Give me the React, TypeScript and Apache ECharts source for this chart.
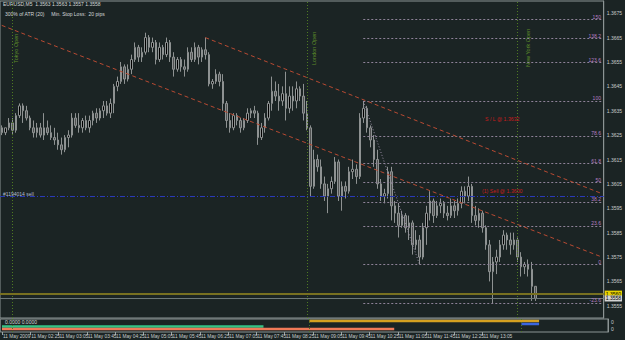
import React, { useEffect, useRef } from 'react';
import * as echarts from 'echarts';

const FONT = '"Liberation Sans Narrow", "Liberation Sans", Arial, sans-serif';

// EURUSD M5 bars: [open, high, low, close]
const ohlc: number[][] = [
  [1.3628, 1.3629, 1.3625, 1.3626], [1.3626, 1.3628, 1.3625, 1.3628], [1.3628, 1.3632, 1.3627, 1.3630],
  [1.3630, 1.3632, 1.3625, 1.3627], [1.3627, 1.3634, 1.3626, 1.3633], [1.3633, 1.3638, 1.3632, 1.3637],
  [1.3637, 1.3638, 1.3630, 1.3635], [1.3635, 1.3637, 1.3631, 1.3632], [1.3632, 1.3633, 1.3627, 1.3628],
  [1.3628, 1.3631, 1.3624, 1.3626], [1.3626, 1.3630, 1.3624, 1.3628], [1.3628, 1.3630, 1.3624, 1.3625],
  [1.3625, 1.3634, 1.3623, 1.3628], [1.3628, 1.3631, 1.3625, 1.3626], [1.3626, 1.3629, 1.3623, 1.3624],
  [1.3624, 1.3628, 1.3621, 1.3623], [1.3623, 1.3626, 1.3619, 1.3621], [1.3621, 1.3624, 1.3617, 1.3619],
  [1.3619, 1.3625, 1.3618, 1.3624], [1.3624, 1.3627, 1.3620, 1.3625], [1.3625, 1.3634, 1.3624, 1.3632],
  [1.3632, 1.3634, 1.3628, 1.3629], [1.3629, 1.3634, 1.3626, 1.3628], [1.3628, 1.3632, 1.3626, 1.3631],
  [1.3631, 1.3633, 1.3627, 1.3628], [1.3628, 1.3633, 1.3626, 1.3631], [1.3631, 1.3635, 1.3629, 1.3634],
  [1.3634, 1.3636, 1.3630, 1.3632], [1.3632, 1.3636, 1.3631, 1.3635], [1.3635, 1.3639, 1.3632, 1.3637],
  [1.3637, 1.3639, 1.3633, 1.3634], [1.3634, 1.3640, 1.3632, 1.3638], [1.3638, 1.3646, 1.3634, 1.3645],
  [1.3645, 1.3649, 1.3643, 1.3647], [1.3647, 1.3655, 1.3646, 1.3653], [1.3653, 1.3654, 1.3646, 1.3648],
  [1.3648, 1.3654, 1.3647, 1.3652], [1.3652, 1.3658, 1.3650, 1.3656], [1.3656, 1.3663, 1.3655, 1.3661],
  [1.3661, 1.3662, 1.3655, 1.3657], [1.3657, 1.3661, 1.3655, 1.3659], [1.3659, 1.3667, 1.3658, 1.3665],
  [1.3665, 1.3666, 1.3659, 1.3661], [1.3661, 1.3665, 1.3659, 1.3663], [1.3663, 1.3664, 1.3654, 1.3656],
  [1.3656, 1.3663, 1.3655, 1.3661], [1.3661, 1.3662, 1.3656, 1.3658], [1.3658, 1.3665, 1.3657, 1.3663],
  [1.3663, 1.3664, 1.3655, 1.3657], [1.3657, 1.3659, 1.3649, 1.3652], [1.3652, 1.3657, 1.3651, 1.3656],
  [1.3656, 1.3657, 1.3651, 1.3653], [1.3653, 1.3656, 1.3649, 1.3652], [1.3652, 1.3661, 1.3651, 1.3659],
  [1.3659, 1.3661, 1.3655, 1.3656], [1.3656, 1.3663, 1.3655, 1.3661], [1.3661, 1.3662, 1.3654, 1.3657],
  [1.3657, 1.3661, 1.3655, 1.3660], [1.3660, 1.3665, 1.3656, 1.3658], [1.3658, 1.3659, 1.3645, 1.3646],
  [1.3646, 1.3648, 1.3644, 1.3647], [1.3647, 1.3652, 1.3646, 1.3650], [1.3650, 1.3651, 1.3645, 1.3647],
  [1.3647, 1.3650, 1.3635, 1.3638], [1.3638, 1.3639, 1.3628, 1.3631], [1.3631, 1.3634, 1.3626, 1.3628],
  [1.3628, 1.3634, 1.3627, 1.3633], [1.3633, 1.3634, 1.3629, 1.3631], [1.3631, 1.3632, 1.3626, 1.3628],
  [1.3628, 1.3632, 1.3627, 1.3631], [1.3631, 1.3636, 1.3630, 1.3634], [1.3634, 1.3636, 1.3632, 1.3635],
  [1.3635, 1.3637, 1.3632, 1.3634], [1.3634, 1.3635, 1.3621, 1.3624], [1.3624, 1.3630, 1.3623, 1.3628],
  [1.3628, 1.3634, 1.3626, 1.3632], [1.3632, 1.3639, 1.3631, 1.3638], [1.3638, 1.3649, 1.3635, 1.3643],
  [1.3643, 1.3647, 1.3639, 1.3641], [1.3641, 1.3646, 1.3635, 1.3639], [1.3639, 1.3645, 1.3637, 1.3642],
  [1.3642, 1.3651, 1.3631, 1.3636], [1.3636, 1.3645, 1.3634, 1.3641], [1.3641, 1.3645, 1.3635, 1.3639],
  [1.3639, 1.3647, 1.3636, 1.3644], [1.3644, 1.3645, 1.3639, 1.3641], [1.3641, 1.3646, 1.3631, 1.3634],
  [1.3634, 1.3639, 1.3627, 1.3628], [1.3628, 1.3629, 1.3600, 1.3604], [1.3604, 1.3619, 1.3603, 1.3615],
  [1.3615, 1.3617, 1.3610, 1.3612], [1.3612, 1.3615, 1.3603, 1.3605], [1.3605, 1.3608, 1.3598, 1.3600],
  [1.3600, 1.3605, 1.3593, 1.3603], [1.3603, 1.3608, 1.3601, 1.3606], [1.3606, 1.3616, 1.3605, 1.3614],
  [1.3614, 1.3615, 1.3598, 1.3600], [1.3600, 1.3606, 1.3594, 1.3604], [1.3604, 1.3606, 1.3599, 1.3602],
  [1.3602, 1.3612, 1.3601, 1.3610], [1.3610, 1.3615, 1.3607, 1.3611], [1.3611, 1.3613, 1.3605, 1.3608],
  [1.3608, 1.3634, 1.3607, 1.3632], [1.3632, 1.3639, 1.3630, 1.3636], [1.3636, 1.3637, 1.3626, 1.3628],
  [1.3628, 1.3629, 1.3620, 1.3623], [1.3623, 1.3625, 1.3612, 1.3615], [1.3615, 1.3619, 1.3603, 1.3605],
  [1.3605, 1.3607, 1.3598, 1.3600], [1.3600, 1.3603, 1.3597, 1.3601], [1.3601, 1.3612, 1.3599, 1.3610],
  [1.3610, 1.3612, 1.3590, 1.3596], [1.3596, 1.3598, 1.3589, 1.3593], [1.3593, 1.3597, 1.3583, 1.3588],
  [1.3588, 1.3594, 1.3587, 1.3592], [1.3592, 1.3593, 1.3585, 1.3587], [1.3587, 1.3592, 1.3582, 1.3589],
  [1.3589, 1.3590, 1.3576, 1.3580], [1.3580, 1.3586, 1.3578, 1.3582], [1.3582, 1.3584, 1.3572, 1.3575],
  [1.3575, 1.3589, 1.3574, 1.3587], [1.3587, 1.3596, 1.3580, 1.3593], [1.3593, 1.3602, 1.3590, 1.3598],
  [1.3598, 1.3599, 1.3589, 1.3592], [1.3592, 1.3598, 1.3591, 1.3596], [1.3596, 1.3599, 1.3593, 1.3597],
  [1.3597, 1.3598, 1.3591, 1.3593], [1.3593, 1.3596, 1.3590, 1.3592], [1.3592, 1.3599, 1.3591, 1.3596],
  [1.3596, 1.3598, 1.3591, 1.3594], [1.3594, 1.3599, 1.3592, 1.3597], [1.3597, 1.3604, 1.3595, 1.3602],
  [1.3602, 1.3604, 1.3597, 1.3600], [1.3600, 1.3608, 1.3598, 1.3604], [1.3604, 1.3605, 1.3589, 1.3592],
  [1.3592, 1.3596, 1.3588, 1.3590], [1.3590, 1.3595, 1.3587, 1.3593], [1.3593, 1.3594, 1.3585, 1.3587],
  [1.3587, 1.3588, 1.3578, 1.3580], [1.3580, 1.3582, 1.3565, 1.3569], [1.3569, 1.3575, 1.3556, 1.3573],
  [1.3573, 1.3578, 1.3568, 1.3575], [1.3575, 1.3582, 1.3573, 1.3580], [1.3580, 1.3586, 1.3578, 1.3584],
  [1.3584, 1.3585, 1.3578, 1.3582], [1.3582, 1.3585, 1.3576, 1.3580], [1.3580, 1.3585, 1.3578, 1.3582],
  [1.3582, 1.3583, 1.3573, 1.3575], [1.3575, 1.3577, 1.3567, 1.3571], [1.3571, 1.3573, 1.3568, 1.3572],
  [1.3572, 1.3574, 1.3567, 1.3570], [1.3570, 1.3573, 1.3557, 1.3563], [1.3563, 1.3563, 1.3557, 1.3558],
];

// time slots (M5), first bar 01:45, plus empty right-shift space
const SLOTS = 172;
const firstMinute = 105;
const barMinutes = 5;
const labelEvery = 8;
const lastLabelBar = 144;
const categories: string[] = Array.from({ length: SLOTS }, (_, i) => {
  if (i >= ohlc.length) return '';
  if (i === 0) return '11 May 2009';
  const m = firstMinute + i * barMinutes;
  const hh = String(Math.floor(m / 60)).padStart(2, '0');
  const mm = String(m % 60).padStart(2, '0');
  return `11 May ${hh}:${mm}`;
});

// Fibonacci tool
const fibHighBar = 103;
const fibLowBar = 119;
const fibHigh = 1.3639;
const fibLow = 1.3572;
const fibEndBar = 171;
const fibRatios = [-0.236, 0, 0.236, 0.382, 0.5, 0.618, 0.786, 1, 1.236, 1.382, 1.5];
const fibLabels = ['-23.6', '0', '23.6', '38.2', '50', '61.8', '78.6', '100', '123.6', '138.2', '150'];

// channel trend lines [bar, price]
const channelLower = [[0, 1.3670], [171, 1.3575]];
const channelUpper = [[58, 1.3665], [171, 1.3601]];

// order / price lines
const sellPrice = 1.3600;
const orderLinePrice = 1.3560;
const bidPrice = 1.3558;

// session lines
const sessionBars = [3, 87, 147];
const sessionNames = ['Tokyo Open', 'London Open', 'New York Open'];

// sub-window indicator bars
const subFrom = [87, 147, 0, 0];
const subTo = [152, 152, 74, 111];
const subLevel = [11, 8, 5.5, 3];
const subColors = ['#d4a020', '#3a66e0', '#36c486', '#f07a58'];

export default function App() {
  const ref = useRef<HTMLDivElement>(null);

  useEffect(() => {
    if (!ref.current) return;
    const chart = echarts.init(ref.current, null, { renderer: 'svg' });

    const candleData = ohlc.map(([o, h, l, c]) => [o, c, l, h]);
    const labelInterval = (i: number) => i % labelEvery === 0 && i <= lastLabelBar;

    const fibLines = fibRatios.map((r, k) => {
      const p = fibLow + r * (fibHigh - fibLow);
      return [
        {
          coord: [fibHighBar, p],
          lineStyle: { color: '#8e8298', type: [2, 2], width: 1 },
          label: {
            show: true, position: 'insideEndTop', formatter: fibLabels[k], color: '#b77fc2',
            fontSize: 5, fontFamily: FONT, distance: [1, 0], padding: 0,
          },
        },
        { coord: [fibEndBar, p] },
      ];
    });

    const sessionMarks = sessionBars.map((b) => ({
      xAxis: b,
      lineStyle: { color: '#4f7a22', type: [1, 2], width: 1 },
      label: { show: false },
    }));

    const subSeries = subFrom.map((f, k) => ({
      type: 'line',
      xAxisIndex: 1,
      yAxisIndex: 1,
      showSymbol: false,
      symbol: 'none',
      connectNulls: false,
      lineStyle: { color: subColors[k], width: 2.5 },
      data: categories.map((_, i) => (i >= f && i <= subTo[k] ? subLevel[k] : null)),
      silent: true,
      z: 3,
    }));

    const option: any = {
      animation: false,
      backgroundColor: '#1b2424',
      textStyle: { fontFamily: FONT },
      grid: [
        { left: 0, top: 1, width: 608, height: 317, show: true, borderColor: '#8c9494', borderWidth: 1, backgroundColor: 'transparent' },
        { left: 0, top: 319, width: 608, height: 13, show: true, borderColor: '#8c9494', borderWidth: 1, backgroundColor: 'transparent' },
      ],
      xAxis: [
        {
          type: 'category', gridIndex: 0, data: categories, boundaryGap: true,
          axisLine: { show: false }, axisTick: { show: false }, axisLabel: { show: false }, splitLine: { show: false },
        },
        {
          type: 'category', gridIndex: 1, data: categories, boundaryGap: true,
          axisLine: { show: false },
          axisTick: { show: true, alignWithLabel: true, interval: labelInterval, length: 3, lineStyle: { color: '#9aa2a2' } },
          axisLabel: {
            interval: labelInterval, align: 'left', fontSize: 4.8, color: '#c8cccc', margin: 2, fontFamily: FONT,
            hideOverlap: false, showMinLabel: true, padding: [0, 0, 0, 1],
          },
          splitLine: { show: false },
        },
      ],
      yAxis: [
        {
          type: 'value', gridIndex: 0, position: 'right', min: 1.355, max: 1.368, interval: 0.0005,
          splitLine: { show: false },
          axisLine: { show: true, lineStyle: { color: '#8c9494' } },
          axisTick: { show: false },
          axisLabel: {
            fontSize: 5, color: '#c8cccc', margin: 3, fontFamily: FONT,
            formatter: (v: number) => (Math.round(v * 10000) % 10 === 5 ? v.toFixed(4) : ''),
          },
        },
        {
          type: 'value', gridIndex: 1, position: 'right', min: 0, max: 13,
          splitLine: { show: false }, axisLine: { show: true, lineStyle: { color: '#8c9494' } },
          axisTick: { show: false }, axisLabel: { show: false },
        },
      ],
      series: [
        {
          type: 'candlestick',
          xAxisIndex: 0,
          yAxisIndex: 0,
          data: candleData,
          barWidth: 2,
          itemStyle: {
            color: '#000000', color0: '#505252',
            borderColor: '#8e9292', borderColor0: '#8e9292', borderWidth: 1,
          },
          markLine: {
            silent: true,
            precision: 5,
            symbol: ['none', 'none'],
            animation: false,
            label: { show: false },
            data: [
              ...sessionMarks,
              ...fibLines,
              [
                { coord: [fibHighBar, fibHigh], lineStyle: { color: '#9a8ea6', type: [1, 2], width: 1 } },
                { coord: [fibLowBar, fibLow] },
              ],
              [
                { coord: channelLower[0], lineStyle: { color: '#b84a32', type: [4, 3], width: 1 } },
                { coord: channelLower[1] },
              ],
              [
                { coord: channelUpper[0], lineStyle: { color: '#b84a32', type: [4, 3], width: 1 } },
                { coord: channelUpper[1] },
              ],
              {
                yAxis: sellPrice,
                lineStyle: { color: '#2a3ab8', type: [5, 2, 1, 2], width: 1 },
                label: {
                  show: true, position: 'insideStartTop', formatter: '#1194014 sell', color: '#b4bccc',
                  fontSize: 5, fontFamily: FONT, distance: [3, 0], padding: 0,
                },
              },
              {
                yAxis: orderLinePrice,
                lineStyle: { color: '#777020', type: 'solid', width: 2 },
                label: {
                  show: true, position: 'end', formatter: '1.3560', color: '#000', backgroundColor: '#e8d400',
                  fontSize: 5, fontFamily: FONT, distance: 1, padding: [0.5, 1],
                },
              },
              {
                yAxis: bidPrice,
                lineStyle: { color: '#6c7878', type: 'solid', width: 1 },
                label: {
                  show: true, position: 'end', formatter: '1.3558', color: '#000', backgroundColor: '#d4d4d4',
                  fontSize: 5, fontFamily: FONT, distance: 1, padding: [0.5, 1],
                },
              },
            ],
          },
          z: 2,
        },
        ...subSeries,
        {
          type: 'line',
          xAxisIndex: 1,
          yAxisIndex: 1,
          data: [],
          markLine: {
            silent: true,
            symbol: ['none', 'none'],
            label: { show: false },
            data: sessionBars.map((b) => ({ xAxis: b, lineStyle: { color: '#4f7a22', type: [1, 2], width: 1 } })),
          },
        },
      ],
      graphic: [
        { type: 'text', left: 3, top: 1.5, style: { text: 'EURUSD,M5  1.3563 1.3563 1.3557 1.3558', fill: '#d4d8d8', fontSize: 5, fontFamily: FONT } },
        { type: 'text', left: 5, top: 11.5, style: { text: '300% of ATR (20)     Min. Stop Loss:  20 pips', fill: '#d4d8d8', fontSize: 5, fontFamily: FONT } },
        { type: 'text', x: 13, y: 63, rotation: Math.PI / 2, style: { text: sessionNames[0], fill: '#5e8e2a', fontSize: 5.5, fontFamily: FONT, align: 'left', verticalAlign: 'top' } },
        { type: 'text', x: 311, y: 65, rotation: Math.PI / 2, style: { text: sessionNames[1], fill: '#5e8e2a', fontSize: 5.5, fontFamily: FONT, align: 'left', verticalAlign: 'top' } },
        { type: 'text', x: 525, y: 67, rotation: Math.PI / 2, style: { text: sessionNames[2], fill: '#5e8e2a', fontSize: 5.5, fontFamily: FONT, align: 'left', verticalAlign: 'top' } },
        { type: 'text', x: 485, y: 116.5, style: { text: 'S / L @ 1.3632', fill: '#c81c1c', fontSize: 5.2, fontFamily: '"Liberation Sans", Arial, sans-serif' } },
        { type: 'text', x: 482, y: 188.5, style: { text: '(1) Sell @ 1.3600', fill: '#c81c1c', fontSize: 5.2, fontFamily: '"Liberation Sans", Arial, sans-serif' } },
        { type: 'text', x: 5, y: 319.5, style: { text: '0.0000 0.0000', fill: '#d4d8d8', fontSize: 5, fontFamily: FONT } },
        { type: 'text', x: 611, y: 319.5, style: { text: '0', fill: '#c8cccc', fontSize: 5, fontFamily: FONT } },
        { type: 'text', x: 611, y: 326.5, style: { text: '0', fill: '#c8cccc', fontSize: 5, fontFamily: FONT } },
      ],
    };

    chart.setOption(option);
    return () => chart.dispose();
  }, []);

  return (
    <div
      ref={ref}
      style={{ position: 'fixed', left: 0, top: 0, width: 625, height: 340, background: '#1b2424' }}
    />
  );
}
